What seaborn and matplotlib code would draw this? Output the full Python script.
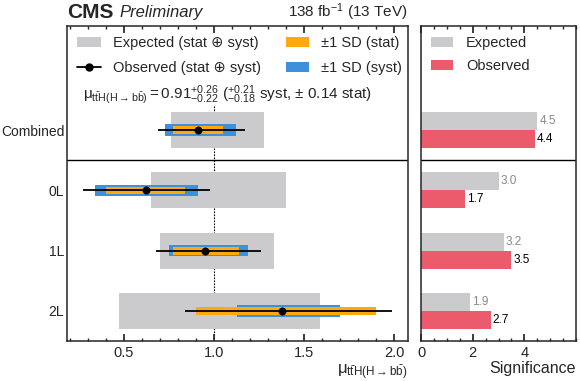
import matplotlib
matplotlib.use("Agg")
import matplotlib.pyplot as plt
import matplotlib.patches as mpatches
from matplotlib.lines import Line2D
from matplotlib.ticker import MultipleLocator
import seaborn as sns
import numpy as np
import pandas as pd

# channels, top to bottom
categories = ["Combined", "0L", "1L", "2L"]

# expected interval (stat + syst)
exp_lo = [0.76, 0.65, 0.70, 0.47]
exp_hi = [1.28, 1.40, 1.335, 1.59]

# observed signal strength and intervals
mu_obs = [0.91, 0.62, 0.95, 1.38]
tot_lo = [0.69, 0.27, 0.68, 0.84]
tot_hi = [1.17, 0.98, 1.26, 1.99]
stat_lo = [0.77, 0.40, 0.77, 0.90]
stat_hi = [1.05, 0.84, 1.14, 1.90]
syst_lo = [0.73, 0.34, 0.75, 1.13]
syst_hi = [1.12, 0.91, 1.19, 1.70]

# significances
sig_exp = [4.5, 3.0, 3.2, 1.9]
sig_obs = [4.4, 1.7, 3.5, 2.7]

c_gray = "#cbcbcd"
c_orange = "#ffa90e"
c_blue = "#3f90da"
c_red = "#ec5b6b"

sns.set_theme(style="ticks")
plt.rcParams["font.family"] = ["Liberation Sans", "DejaVu Sans"]
plt.rcParams["mathtext.fontset"] = "custom"
plt.rcParams["mathtext.rm"] = "Liberation Sans"
plt.rcParams["mathtext.it"] = "Liberation Sans:italic"
plt.rcParams["mathtext.bf"] = "Liberation Sans:bold"
plt.rcParams["mathtext.default"] = "regular"
plt.rcParams["axes.linewidth"] = 1.1

fig = plt.figure(figsize=(5.8, 3.81), dpi=100)
ax = fig.add_axes([67 / 580, 40 / 381, 341 / 580, 315 / 381])
ax2 = fig.add_axes([421 / 580, 40 / 381, 155 / 580, 315 / 381])

pos = np.arange(len(categories))
ylim = (3.5, -1.73)

# ---- left panel: signal strength ----
ax.barh(pos, np.array(exp_hi) - np.array(exp_lo), left=exp_lo, height=0.6,
        color=c_gray, linewidth=0, zorder=1)
ax.barh(pos, np.array(syst_hi) - np.array(syst_lo), left=syst_lo, height=0.19,
        color=c_blue, linewidth=0, zorder=2)
ax.barh(pos, np.array(stat_hi) - np.array(stat_lo), left=stat_lo, height=0.13,
        color=c_orange, linewidth=0, zorder=3)
ax.hlines(pos, tot_lo, tot_hi, color="black", lw=1.3, zorder=4)
sns.scatterplot(x=mu_obs, y=pos, ax=ax, color="black", s=28, edgecolor="black",
                zorder=5, legend=False)
ax.vlines(1.0, -0.4, 3.5, color="black", lw=0.8, linestyles=(0, (1.5, 1.2)), zorder=0)
ax.axhline(0.5, color="black", lw=1.0)

ax.set_xlim(0.183, 2.078)
ax.set_ylim(*ylim)
ax.set_yticks(pos)
ax.set_yticklabels(categories, fontsize=10)
ax.set_xticks([0.5, 1.0, 1.5, 2.0])
ax.xaxis.set_minor_locator(MultipleLocator(0.1))
ax.tick_params(axis="x", which="both", direction="in", top=True, labelsize=10.5)
ax.tick_params(axis="x", which="major", length=5)
ax.tick_params(axis="x", which="minor", length=2.5)
ax.tick_params(axis="y", length=0, pad=2)
ax.set_xlabel(r"$\mu_{\mathrm{t\bar{t}H(H\rightarrow b\bar{b})}}$", loc="right",
              fontsize=12, labelpad=2)

handles = [
    mpatches.Patch(color=c_gray, lw=0, label="Expected (stat \u2295 syst)"),
    Line2D([], [], color="black", marker="o", markersize=5, lw=1.3,
           label="Observed (stat \u2295 syst)"),
    mpatches.Patch(color=c_orange, lw=0, label="\u00b11 SD (stat)"),
    mpatches.Patch(color=c_blue, lw=0, label="\u00b11 SD (syst)"),
]
ax.legend(handles=handles, ncol=2, loc="upper left", bbox_to_anchor=(0.0, 1.0),
          frameon=False, fontsize=10.5, handlelength=1.6, handletextpad=0.85,
          columnspacing=1.7, labelspacing=0.75, borderaxespad=0.3)
ax.text(0.047, 0.781,
        r"$\mu_{\mathrm{t\bar{t}H(H\rightarrow b\bar{b})}} = 0.91^{+0.26}_{-0.22}$"
        r" ($^{+0.21}_{-0.18}$ syst, $\pm$ 0.14 stat)",
        transform=ax.transAxes, fontsize=11, va="center", ha="left")

# ---- right panel: significance ----
df = pd.DataFrame({
    "channel": categories * 2,
    "sig": sig_exp + sig_obs,
    "kind": ["Expected"] * len(categories) + ["Observed"] * len(categories),
})
sns.barplot(data=df, x="sig", y="channel", hue="kind", order=categories,
            hue_order=["Expected", "Observed"], palette=[c_gray, c_red],
            saturation=1, width=0.6, orient="h", ax=ax2, legend=False,
            linewidth=0)
ax2.bar_label(ax2.containers[0], labels=[f"{v:.1f}" for v in sig_exp],
              padding=1.5, color="#888888", fontsize=8.5)
ax2.bar_label(ax2.containers[1], labels=[f"{v:.1f}" for v in sig_obs],
              padding=1.5, color="black", fontsize=8.5)
ax2.axhline(0.5, color="black", lw=1.0)
ax2.set_xlim(0, 6)
ax2.set_ylim(*ylim)
ax2.set_ylabel("")
ax2.set_xticks([0, 2, 4])
ax2.xaxis.set_minor_locator(MultipleLocator(0.5))
ax2.tick_params(axis="x", which="both", direction="in", top=True, labelsize=10.5)
ax2.tick_params(axis="x", which="major", length=5)
ax2.tick_params(axis="x", which="minor", length=2.5)
ax2.tick_params(axis="y", left=False, labelleft=False)
ax2.set_xlabel("Significance", loc="right", fontsize=11.5, labelpad=1)

handles2 = [
    mpatches.Patch(color=c_gray, lw=0, label="Expected"),
    mpatches.Patch(color=c_red, lw=0, label="Observed"),
]
ax2.legend(handles=handles2, loc="upper left", bbox_to_anchor=(0.0, 1.0),
           frameon=False, fontsize=10.5, handlelength=1.5, handletextpad=0.9,
           labelspacing=0.6, borderaxespad=0.3)

# ---- header ----
fig.text(67 / 580, 1 - 12 / 381, "CMS", fontsize=15, fontweight="bold",
         va="center", ha="left")
fig.text(119 / 580, 1 - 12 / 381, "Preliminary", fontsize=12, style="italic",
         va="center", ha="left")
fig.text(408 / 580, 1 - 12 / 381, r"138 fb$^{-1}$ (13 TeV)", fontsize=11,
         va="center", ha="right")

fig.savefig("out.png", dpi=100)
